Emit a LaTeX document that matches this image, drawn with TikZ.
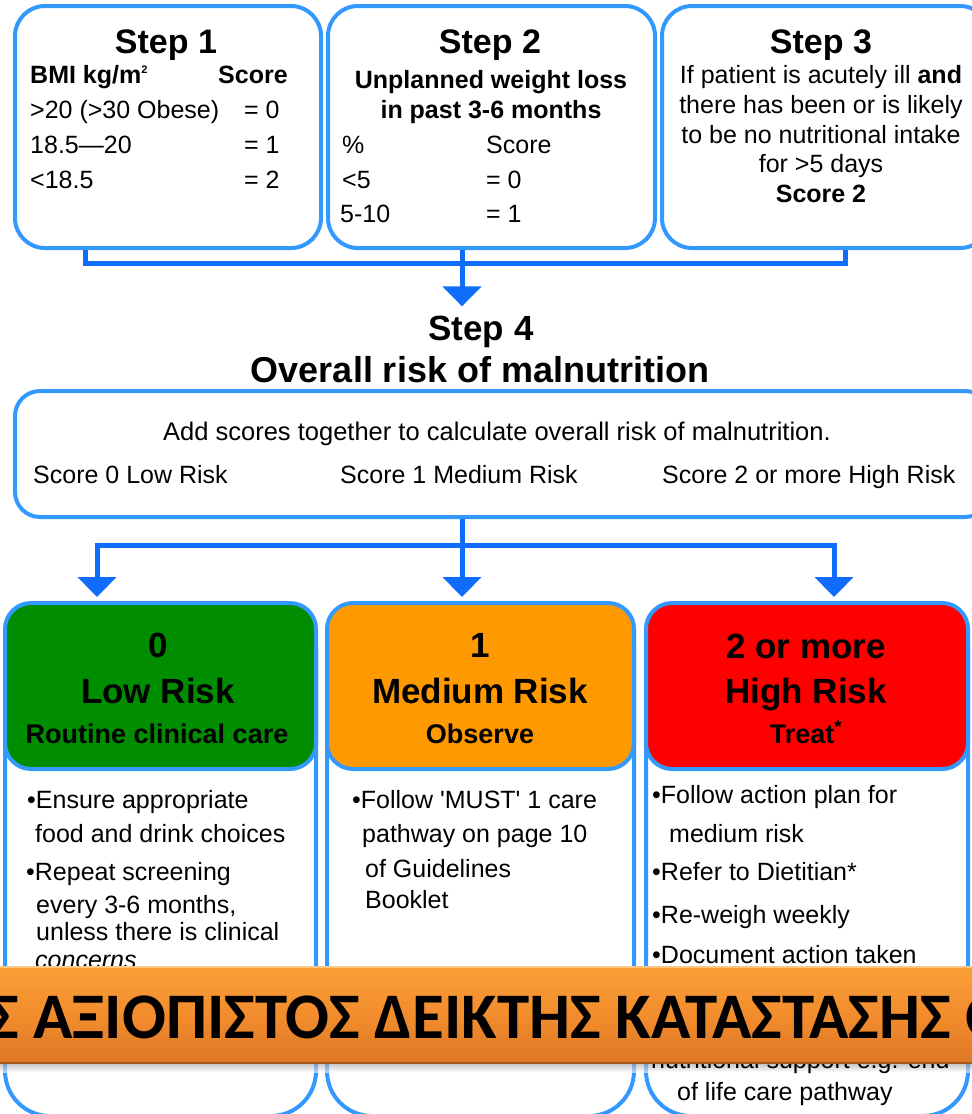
\documentclass[tikz,border=0pt]{standalone}
\usepackage{fontspec}
\setmainfont{Liberation Sans}
\newfontfamily\greekbanner{Carlito}
\usetikzlibrary{arrows.meta,positioning}

\definecolor{boxblue}{RGB}{51,153,255}
\definecolor{linkblue}{RGB}{16,108,250}
\definecolor{lowgreen}{RGB}{0,142,0}
\definecolor{medorange}{RGB}{255,153,0}
\definecolor{highred}{RGB}{255,0,0}
\definecolor{bannerlight}{RGB}{250,160,56}
\definecolor{bannermid}{RGB}{242,140,44}
\definecolor{bannerdark}{RGB}{222,120,38}

\tikzset{
  stepbox/.style={draw=boxblue, line width=4pt, rounded corners=30pt, inner sep=0pt},
  riskbox/.style={draw=boxblue, line width=4pt, rounded corners=45pt, inner sep=0pt},
  riskhead/.style={draw=boxblue, line width=4pt, rounded corners=26pt, inner sep=0pt},
  joinline/.style={draw=linkblue, line width=5pt},
  flowarrow/.style={joinline, -{Triangle[width=38pt,length=20pt]}},
  body/.style={inner sep=0pt, anchor=base west, font=\fontsize{25}{30}\selectfont},
  bodyb/.style={body, font=\bfseries\fontsize{25}{30}\selectfont},
  steptitle/.style={inner sep=0pt, anchor=base, font=\bfseries\fontsize{34}{40}\selectfont},
  risktitle/.style={inner sep=0pt, anchor=base, font=\bfseries\fontsize{35}{40}\selectfont},
  risksub/.style={inner sep=0pt, anchor=base, font=\bfseries\fontsize{27}{32}\selectfont}
}

\begin{document}
\begin{tikzpicture}[x=1pt,y=-1pt]
        \useasboundingbox (0,0) rectangle (972,1114);
        \clip (0,0) rectangle (972,1114);

        \node[stepbox, minimum width=306pt, minimum height=242pt] (step1) at (168,127) {};
        \node[stepbox, minimum width=327pt, minimum height=242pt] (step2) at (491.5,127) {};
        \node[stepbox, minimum width=328pt, minimum height=242pt] (step3) at (826,127) {};

        \node[steptitle] (t1) at (166,53) {Step 1};
        \node[bodyb] (bmi) at (30,83) {BMI kg/m\textsuperscript{\fontsize{11}{11}\selectfont 2}};
        \node[bodyb] (bmiscore) at (218,83) {Score};
        \node[body] (bmia) at (30,118) {>20 (>30 Obese)};
        \node[body] (bmia0) at (244,118) {= 0};
        \node[body] (bmib) at (30,153) {18.5—20};
        \node[body] (bmib1) at (244,153) {= 1};
        \node[body] (bmic) at (30,188) {<18.5};
        \node[body] (bmic2) at (244,188) {= 2};

        \node[steptitle] (t2) at (490,53) {Step 2};
        \node[bodyb, anchor=base] (wla) at (491,88) {Unplanned weight loss};
        \node[bodyb, anchor=base] (wlb) at (491,118) {in past 3-6 months};
        \node[body] (pct) at (342,153) {\%};
        \node[body] (pctscore) at (486,153) {Score};
        \node[body] (pcta) at (342,188) {<5};
        \node[body] (pcta0) at (486,188) {= 0};
        \node[body] (pctb) at (340,222) {5-10};
        \node[body] (pctb1) at (486,222) {= 1};

        \node[steptitle] (t3) at (821,53) {Step 3};
        \node[body, anchor=base] (ill1) at (821,83) {If patient is acutely ill \textbf{and}};
        \node[body, anchor=base] (ill2) at (821,113) {there has been or is likely};
        \node[body, anchor=base] (ill3) at (821,143) {to be no nutritional intake};
        \node[body, anchor=base] (ill4) at (821,172) {for >5 days};
        \node[bodyb, anchor=base] (ill5) at (821,202) {Score 2};

        \coordinate (gl) at (85,263);
        \coordinate (gm) at (462,263);
        \coordinate (gr) at (845,263);
        \draw[joinline] (step1.south -| gl) -- (gl) -- (gr) -- (step3.south -| gr);

        \node[steptitle, font=\bfseries\fontsize{35}{40}\selectfont] (t4) at (481,340) {Step 4};
        \node[steptitle, font=\bfseries\fontsize{36}{40}\selectfont] (t4b) at (480,382) {Overall risk of malnutrition};
        \draw[flowarrow, shorten >=9pt] (step2.south -| gm) -- (gm |- t4.north);

        \node[stepbox, rounded corners=25pt, minimum width=975pt, minimum height=126pt] (step4) at (502.5,454) {};
        \node[body, anchor=base, font=\fontsize{25.5}{30}\selectfont] (add) at (497,440) {Add scores together to calculate overall risk of malnutrition.};
        \node[body] (sc0) at (33,483) {Score 0 Low Risk};
        \node[body] (sc1) at (340,483) {Score 1 Medium Risk};
        \node[body] (sc2) at (662,483) {Score 2 or more High Risk};

        \node[riskbox, minimum width=311pt, minimum height=513pt] (low) at (160.5,859.5) {};
        \node[riskbox, minimum width=307pt, minimum height=513pt] (med) at (480.5,859.5) {};
        \node[riskbox, minimum width=322pt, minimum height=513pt] (high) at (807,859.5) {};
        \node[riskhead, fill=lowgreen, minimum width=311pt, minimum height=166pt] (lowhead) at (160.5,686) {};
        \node[riskhead, fill=medorange, minimum width=307pt, minimum height=166pt] (medhead) at (480.5,686) {};
        \node[riskhead, fill=highred, minimum width=322pt, minimum height=166pt] (highhead) at (807,686) {};

        \coordinate (sl) at (97,545);
        \coordinate (sm) at (462,545);
        \coordinate (sh) at (834,545);
        \draw[flowarrow, shorten >=4pt] (sm) -- (sl) -- (low.north -| sl);
        \draw[flowarrow, shorten >=4pt] (sm) -- (sh) -- (high.north -| sh);
        \draw[flowarrow, shorten >=4pt] (step4.south -| sm) -- (med.north -| sm);

        \node[risktitle] (lowa) at (158,657) {0};
        \node[risktitle] (lowb) at (158,703) {Low Risk};
        \node[risksub] (lowc) at (157,743) {Routine clinical care};
        \node[risktitle] (meda) at (480,657) {1};
        \node[risktitle] (medb) at (480,703) {Medium Risk};
        \node[risksub] (medc) at (480,743) {Observe};
        \node[risktitle] (higha) at (806,658) {2 or more};
        \node[risktitle] (highb) at (806,703) {High Risk};
        \node[risksub] (highc) at (806,743) {Treat\textsuperscript{*}};

        \shade[top color=black!45, bottom color=white, fill opacity=0.6] (0,1062) rectangle (972,1072);

        \node[body] (lowt1) at (27,808) {\textbullet Ensure appropriate};
        \node[body] (lowt2) at (35,842) {food and drink choices};
        \node[body] (lowt3) at (26,880) {\textbullet Repeat screening};
        \node[body] (lowt4) at (36,913) {every 3-6 months,};
        \node[body] (lowt5) at (36,940) {unless there is clinical};
        \node[body] (lowt6) at (35,968) {\itshape concerns};

        \node[body] (medt1) at (352,808) {\textbullet Follow \textquotesingle MUST\textquotesingle\ 1 care};
        \node[body] (medt2) at (362,842) {pathway on page 10};
        \node[body] (medt3) at (365,877) {of Guidelines};
        \node[body] (medt4) at (365,908) {Booklet};

        \node[body] (hight1) at (652,803) {\textbullet Follow action plan for};
        \node[body] (hight2) at (669,842) {medium risk};
        \node[body] (hight3) at (652,880) {\textbullet Refer to Dietitian*};
        \node[body] (hight4) at (652,923) {\textbullet Re-weigh weekly};
        \node[body] (hight5) at (652,963) {\textbullet Document action taken};
        \node[body] (hight6) at (651,1068) {nutritional support e.g. end};
        \node[body] (hight7) at (677,1100) {of life care pathway};

        \node[inner sep=0pt, minimum width=980pt, minimum height=96pt, top color=bannerlight, bottom color=bannerdark, middle color=bannermid] (banner) at (486,1015) {};
        \draw[bannerlight!60!white, line width=2pt] (banner.north west) -- (banner.north east);
        \draw[bannerdark!75!black, line width=1.5pt] (banner.south west) -- (banner.south east);
        \node[inner sep=0pt, anchor=base west, font=\greekbanner\bfseries\fontsize{65}{70}\selectfont] (bannertext) at (-12,1038) {Σ ΑΞΙΟΠΙΣΤΟΣ ΔΕΙΚΤΗΣ ΚΑΤΑΣΤΑΣΗΣ Θ};
\end{tikzpicture}
\end{document}
